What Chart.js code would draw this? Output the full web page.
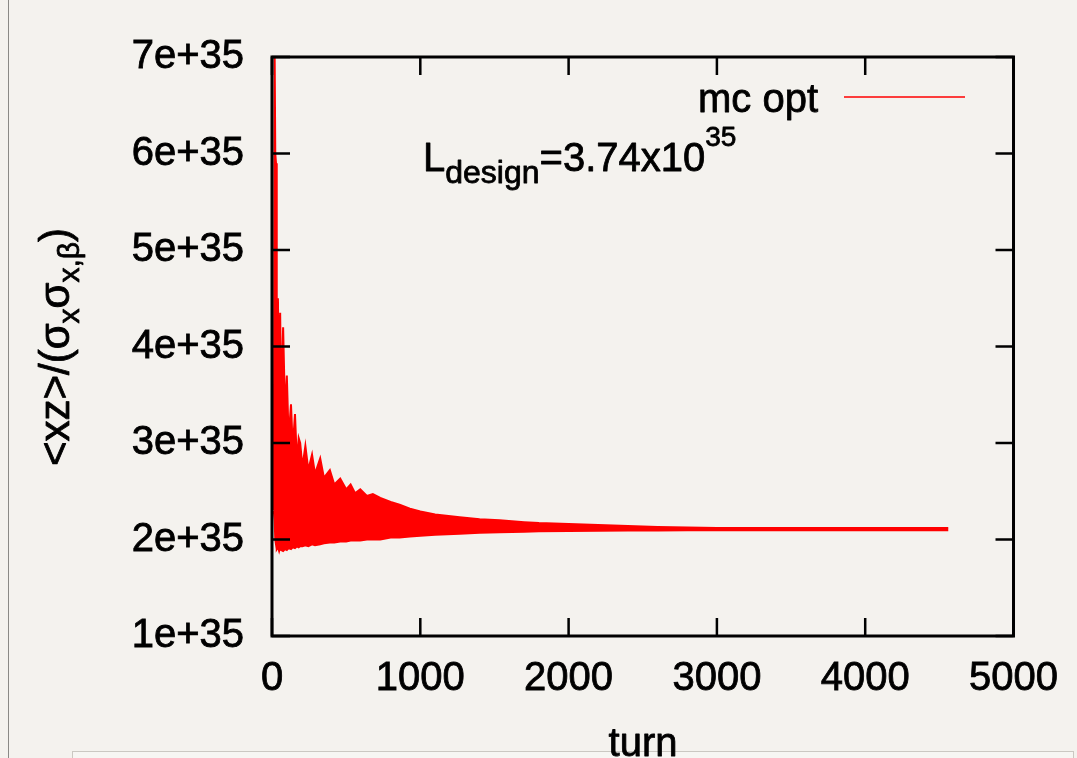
<!DOCTYPE html>
<html>
<head>
<meta charset="utf-8">
<title>mc opt luminosity</title>
<script src="https://cdn.jsdelivr.net/npm/chart.js@4.4.0/dist/chart.umd.min.js"></script>
<style>
  html, body { margin: 0; padding: 0; background: #f4f2ee; }
  #wrap { position: relative; width: 1077px; height: 758px; overflow: hidden; }
  #edge { position: absolute; left: 8px; top: 0; width: 1px; height: 758px; background: #8a8986; }
  #panel { position: absolute; left: 72px; top: 751px; width: 1000px; height: 20px; background: #f7f6f3; border: 1px solid #cbc8c2; }
  canvas { position: absolute; left: 0; top: 0; }
</style>
</head>
<body>
<div id="wrap">
  <div id="edge"></div>
  <div id="panel"></div>
  <canvas id="myChart" width="1077" height="758"></canvas>
</div>
<script>
// turn-by-turn oscillation drawn as its max / min envelope (units of 1e35)
const envTurns = [12, 18, 22, 27, 32, 40, 48, 55, 62, 75,
    88, 100, 112, 128, 140, 155, 168, 180, 190, 205,
    225, 245, 270, 290, 325, 350, 390, 420, 460, 500,
    530, 560, 595, 640, 680, 730, 800, 860, 930, 1000,
    1100, 1265, 1400, 1535, 1700, 1800, 2000, 2200, 2400, 2600,
    2800, 3000, 3500, 4000, 4560];
const lumiMax = [2.3, 7.0, 6.0, 5.9, 3.5, 4.5, 3.3, 4.35, 3.4, 4.2,
    3.3, 3.7, 3.05, 3.4, 2.95, 3.3, 2.8, 3.05, 3.0, 2.75,
    2.97, 2.72, 2.88, 2.68, 2.84, 2.64, 2.72, 2.57, 2.63, 2.52,
    2.57, 2.48, 2.52, 2.45, 2.47, 2.43, 2.39, 2.36, 2.32, 2.29,
    2.26, 2.23, 2.21, 2.2, 2.18, 2.17, 2.16, 2.15, 2.14, 2.13,
    2.125, 2.12, 2.118, 2.118, 2.118];
const lumiMin = [2.3, 2.2, 2.0, 1.95, 1.9, 1.92, 1.88, 1.92, 1.89, 1.88,
    1.9, 1.89, 1.91, 1.9, 1.92, 1.91, 1.93, 1.92, 1.93, 1.93,
    1.94, 1.93, 1.95, 1.94, 1.95, 1.96, 1.97, 1.97, 1.98, 1.98,
    1.99, 1.99, 1.99, 2.0, 2.0, 2.0, 2.02, 2.02, 2.03, 2.04,
    2.05, 2.06, 2.07, 2.075, 2.08, 2.085, 2.088, 2.09, 2.092, 2.094,
    2.095, 2.095, 2.096, 2.096, 2.096];

const xTicks = [0, 1000, 2000, 3000, 4000, 5000];
const yTicks = [1, 2, 3, 4, 5, 6, 7];

const RED = '#ff0000';
const FONT = '"Liberation Sans", Arial, Helvetica, sans-serif';
const STROKE = 0.8;  // slight outline so the labels read as heavy as the axes

// gnuplot-style frame: thick box with inward ticks on all four sides
const framePlugin = {
    id: 'frame',
    afterDatasetsDraw(chart) {
        const c = chart.ctx;
        const a = chart.chartArea;
        const xs = chart.scales.x, ys = chart.scales.y;
        const len = 18;
        c.save();
        c.strokeStyle = '#000';
        c.lineWidth = 2.5;
        c.beginPath();
        xs.ticks.forEach(t => {
            const px = xs.getPixelForValue(t.value);
            c.moveTo(px, a.bottom); c.lineTo(px, a.bottom - len);
            c.moveTo(px, a.top); c.lineTo(px, a.top + len);
        });
        ys.ticks.forEach(t => {
            const py = ys.getPixelForValue(t.value);
            c.moveTo(a.left, py); c.lineTo(a.left + len, py);
            c.moveTo(a.right, py); c.lineTo(a.right - len, py);
        });
        c.stroke();
        c.lineWidth = 3;
        c.strokeRect(a.left, a.top, a.right - a.left, a.bottom - a.top);
        c.restore();
    }
};

const drawText = (c, s, x, y) => {
    c.fillText(s, x, y);
    c.strokeText(s, x, y);
};

// legend key, design-luminosity note and the two axis titles
const textPlugin = {
    id: 'texts',
    afterDraw(chart) {
        const c = chart.ctx;
        c.save();
        c.fillStyle = '#000';
        c.strokeStyle = '#000';
        c.lineWidth = STROKE;
        c.lineJoin = 'round';
        c.textBaseline = 'alphabetic';

        // legend
        c.font = '40px ' + FONT;
        c.textAlign = 'right';
        drawText(c, 'mc opt', 818, 112);
        c.save();
        c.strokeStyle = RED;
        c.lineWidth = 1.5;
        c.beginPath();
        c.moveTo(844, 97);
        c.lineTo(965, 97);
        c.stroke();
        c.restore();

        // L_design = 3.74x10^35
        c.textAlign = 'left';
        let x = 423;
        const parts = [
            ['L', 40, 171],
            ['design', 32, 183],
            ['=3.74x10', 40, 171],
            ['35', 28, 146]
        ];
        parts.forEach(([s, size, base]) => {
            c.font = size + 'px ' + FONT;
            drawText(c, s, x, base);
            x += c.measureText(s).width;
        });

        // x title
        c.font = '40px ' + FONT;
        c.textAlign = 'center';
        drawText(c, 'turn', 643, 756);

        // y title, rotated, with subscripts
        const yParts = [
            ['<xz>/(\u03c3', 42, 0],
            ['x', 30, 10],
            ['\u03c3', 42, 0],
            ['x,\u03b2', 30, 10],
            [')', 42, 0]
        ];
        let total = 0;
        yParts.forEach(([s, size]) => {
            c.font = size + 'px ' + FONT;
            total += c.measureText(s).width;
        });
        c.translate(69, 347);
        c.rotate(-Math.PI / 2);
        c.textAlign = 'left';
        let px = -total / 2;
        yParts.forEach(([s, size, dy]) => {
            c.font = size + 'px ' + FONT;
            drawText(c, s, px, dy);
            px += c.measureText(s).width;
        });
        c.restore();
    }
};

const renderChart = () => {
    const ctx = document.getElementById('myChart').getContext('2d');
    const upper = envTurns.map((t, i) => ({ x: t, y: lumiMax[i] }));
    const lower = envTurns.map((t, i) => ({ x: t, y: lumiMin[i] }));

    new Chart(ctx, {
        type: 'line',
        data: {
            datasets: [{
                label: 'mc opt',
                data: upper,
                borderColor: RED,
                backgroundColor: RED,
                borderWidth: 2,
                pointRadius: 0,
                tension: 0,
                fill: '+1'
            }, {
                label: 'mc opt (min)',
                data: lower,
                borderColor: RED,
                backgroundColor: RED,
                borderWidth: 2,
                pointRadius: 0,
                tension: 0,
                fill: false
            }]
        },
        options: {
            responsive: false,
            animation: false,
            layout: { padding: { top: 57, right: 62, left: 0, bottom: 0 } },
            plugins: {
                legend: { display: false },
                tooltip: { enabled: false }
            },
            scales: {
                x: {
                    type: 'linear',
                    min: 0,
                    max: 5000,
                    afterBuildTicks: s => { s.ticks = xTicks.map(v => ({ value: v })); },
                    afterFit: s => { s.height = 122; },
                    ticks: {
                        color: '#000',
                        font: { family: FONT, size: 40 },
                        textStrokeColor: '#000',
                        textStrokeWidth: STROKE,
                        padding: 19,
                        maxRotation: 0,
                        callback: v => String(v)
                    },
                    grid: { display: false, drawTicks: false },
                    border: { display: false }
                },
                y: {
                    type: 'linear',
                    min: 1,
                    max: 7,
                    afterBuildTicks: s => { s.ticks = yTicks.map(v => ({ value: v })); },
                    afterFit: s => { s.width = 272; },
                    ticks: {
                        color: '#000',
                        font: { family: FONT, size: 40 },
                        textStrokeColor: '#000',
                        textStrokeWidth: STROKE,
                        padding: 28,
                        callback: v => v + 'e+35'
                    },
                    grid: { display: false, drawTicks: false },
                    border: { display: false }
                }
            }
        },
        plugins: [framePlugin, textPlugin]
    });
};

window.addEventListener('DOMContentLoaded', renderChart);
</script>
</body>
</html>
